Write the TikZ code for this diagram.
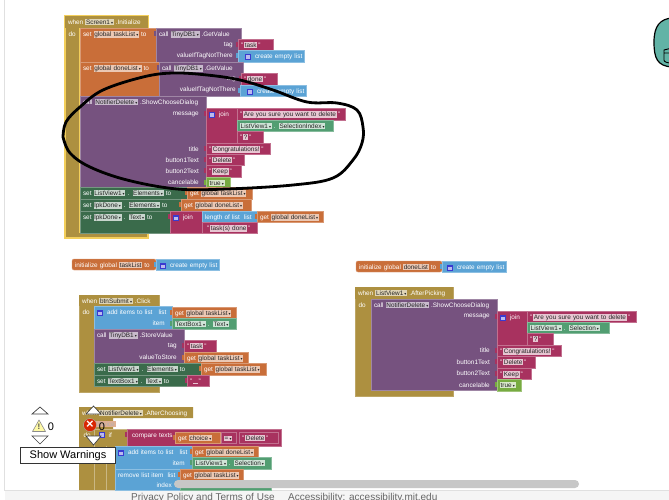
\documentclass[tikz,border=0pt]{standalone}
\usepackage{fontspec}
\setmainfont{Liberation Sans}
\newfontfamily\symfont{DejaVu Sans}
\definecolor{blkpurple}{HTML}{76527F}
\definecolor{blkorange}{HTML}{C96E39}
\definecolor{blkpink}{HTML}{A8325F}
\definecolor{blkblue}{HTML}{5BA3D5}
\definecolor{blkdark}{HTML}{3A6B4B}
\definecolor{blkgreen}{HTML}{529E72}
\definecolor{blklime}{HTML}{77AB41}
\definecolor{blkgold}{HTML}{AD9040}
\definecolor{gearblue}{HTML}{3A3AD0}
\definecolor{hilite}{HTML}{F3CF5B}
\definecolor{figteal}{HTML}{62B3A6}
\colorlet{chipc}{white}
\newcommand{\blkfont}{\fontsize{6.4}{7.5}\selectfont}
\newcommand{\chip}[1]{{\setlength{\fboxsep}{0.7pt}\colorbox{chipc}{\textcolor{black!85}{#1}}}}
\newcommand{\chipd}[1]{\chip{#1\,{\symfont\fontsize{4}{5}\selectfont ▾}}}
\newcommand{\gearic}{{\setlength{\fboxsep}{0.7pt}\setlength{\fboxrule}{1.3pt}\fcolorbox{gearblue}{gearblue!35!white}{\rule{0pt}{2pt}\rule{2pt}{0pt}}}}
\newcommand{\emptylst}[1][4pt]{\rlap{\hspace{#1}\gearic\hspace{4pt}create empty list}}
\tikzset{
  blk/.style 2 args={anchor=north west, outer sep=0pt, inner xsep=3pt, inner ysep=0pt,
    text width={#1pt-6pt}, text height=8.2pt, text depth={#2pt-8.2pt}, align=left,
    line width=0.4pt, font=\blkfont},
  purp/.style={fill=blkpurple, draw=blkpurple!70!white, text=white, execute at begin node=\colorlet{chipc}{blkpurple!40!white}},
  oran/.style={fill=blkorange, draw=blkorange!70!white, text=white, execute at begin node=\colorlet{chipc}{blkorange!38!white}},
  pink/.style={fill=blkpink, draw=blkpink!70!white, text=white, execute at begin node=\colorlet{chipc}{blkpink!28!white}},
  blue/.style={fill=blkblue, draw=blkblue!70!white, text=white},
  dark/.style={fill=blkdark, draw=blkdark!70!white, text=white, execute at begin node=\colorlet{chipc}{blkdark!28!white}},
  gren/.style={fill=blkgreen, draw=blkgreen!70!white, text=white, execute at begin node=\colorlet{chipc}{blkgreen!28!white}},
  lime/.style={fill=blklime, draw=blklime!70!white, text=white, execute at begin node=\colorlet{chipc}{blklime!28!white}},
  gold/.style={fill=blkgold, text=white, execute at begin node=\colorlet{chipc}{blkgold!38!white}},
  hat/.style={fill=blkgold, draw=blkgold!80!white, line width=0.4pt},
  tab/.style={append after command={\pgfextra{\fill[#1] ([xshift=-2pt,yshift=-3pt]\tikzlastnode.north west) rectangle ([yshift=-8pt]\tikzlastnode.north west);}}},
  lbl/.style={anchor=east, inner sep=0pt, text=white, font=\blkfont},
  navtri/.style={fill=white, draw=black!75, line width=0.7pt},
  bignum/.style={inner sep=0pt, text=black, font=\fontsize{11}{12}\selectfont},
  foot/.style={anchor=west, inner sep=0pt, text=black!60, font=\fontsize{10}{12}\selectfont},
}
\begin{document}
\begin{tikzpicture}[x=1pt,y=-1pt]
\useasboundingbox (0,0) rectangle (669,500);
\clip (0,0) rectangle (669,500);
\fill[white] (0,0) rectangle (669,500);
\draw[black!12,line width=0.6pt] (4,0) -- (4,490) -- (669,490);

% Screen1.Initialize
\draw[hat,draw=hilite,line width=1.2pt] (65,16) -- (148,16) -- (148,28) -- (80,28) -- (80,232) -- (148,232) -- (148,238) -- (65,238) -- cycle;
\node[gold, blk={83}{12}] (scr) at (65,16) {when \chipd{Screen1} .Initialize};
\node[lbl] (scrdo) at (76,34) {do};
\node[oran, blk={76}{34}] (settask) at (80,28) {set \chipd{global taskList} to};
\node[purp, blk={85}{34}, tab=blkpurple] (gettask) at (156,28) {call \chipd{TinyDB1} .GetValue};
\node[lbl] (tag1) at (233,45) {tag};
\node[pink, blk={35}{11}, tab=blkpink] (task1) at (238,39) {"\,\chip{task}\,"};
\node[lbl] (vin1) at (233,56) {valueIfTagNotThere};
\node[blue, blk={66}{12}, tab=blkblue] (empty1) at (238,50) {\emptylst};
\node[oran, blk={79}{34}] (setdone) at (80,62) {set \chipd{global doneList} to};
\node[purp, blk={84}{34}, tab=blkpurple] (getdone) at (159,62) {call \chipd{TinyDB1} .GetValue};
\node[lbl] (tag2) at (236,79) {tag};
\node[pink, blk={36}{12}, tab=blkpink] (done1) at (241,73) {"\,\chip{done}\,"};
\node[lbl] (vin2) at (236,90) {valueIfTagNotThere};
\node[blue, blk={66}{11}, tab=blkblue] (empty2) at (240,85) {\emptylst};

\node[purp, blk={126}{91}] (dlg1) at (80,96) {call \chipd{NotifierDelete} .ShowChooseDialog};
\node[lbl] (msg1) at (199,114) {message};
\node[pink, blk={31}{35}, tab=blkpink] (join1) at (206,108) {\gearic\hspace{4pt}join};
\node[pink, blk={108}{12}] (sure1) at (237,108) {"\,\chip{Are you sure you want to delete}\,"};
\node[gren, blk={96}{11}] (sel1) at (237,120) {\chipd{ListView1} . \chipd{SelectionIndex}};
\node[pink, blk={26}{12}] (qm1) at (237,131) {"\,\chip{?}\,"};
\node[lbl] (ttl1) at (199,149) {title};
\node[pink, blk={64}{11}, tab=blkpink] (cong1) at (206,143) {"\,\chip{Congratulations!}\,"};
\node[lbl] (btn1) at (199,160) {button1Text};
\node[pink, blk={38}{11}, tab=blkpink] (del1) at (206,154) {"\,\chip{Delete}\,"};
\node[lbl] (btn2) at (199,171) {button2Text};
\node[pink, blk={35}{12}, tab=blkpink] (keep1) at (206,165) {"\,\chip{Keep}\,"};
\node[lbl] (can1) at (199,182) {cancelable};
\node[lime, blk={24}{10}, tab=blklime] (true1) at (206,177) {\chipd{true}};

\node[dark, blk={107}{12}] (setlv) at (80,187) {set \chipd{ListView1} . \chipd{Elements} to};
\node[oran, blk={65}{12}, tab=blkorange] (gl1) at (187,187) {get \chipd{global taskList}};
\node[dark, blk={101}{12}] (setlpk) at (80,199) {set \chipd{lpkDone} . \chipd{Elements} to};
\node[oran, blk={70}{12}, tab=blkorange] (gl2) at (181,199) {get \chipd{global doneList}};
\node[dark, blk={90}{22}] (settxt) at (80,211) {set \chipd{lpkDone} . \chipd{Text} to};
\node[pink, blk={32}{22}, tab=blkpink] (join2) at (170,211) {\gearic\hspace{4pt}join};
\node[blue, blk={55}{11}] (len) at (202,211) {length of list\hspace{4pt}list};
\node[oran, blk={66}{11}, tab=blkorange] (gl3) at (257,211) {get \chipd{global doneList}};
\node[pink, blk={55}{11}] (tsk) at (202,222) {\hspace{2pt}"\,\chip{task(s) done}\,"};

% initialize globals
\node[oran, blk={84}{11}, rounded corners=2pt] (inittask) at (72,259) {initialize global \chip{taskList} to};
\node[blue, blk={63}{11}, tab=blkblue] (emptyt) at (156,259) {\emptylst[1pt]};
\node[oran, blk={86}{11}, rounded corners=2pt] (initdone) at (356,261) {initialize global \chip{doneList} to};
\node[blue, blk={64}{11}, tab=blkblue] (emptyd) at (442,261) {\emptylst[2pt]};

% ListView1.AfterPicking
\draw[hat] (355,287) -- (453,287) -- (453,299) -- (371,299) -- (371,390) -- (453,390) -- (453,396) -- (355,396) -- cycle;
\node[gold, blk={98}{12}] (lvp) at (355,287) {when \chipd{ListView1} .AfterPicking};
\node[lbl] (lvdo) at (366,305) {do};
\node[purp, blk={126}{91}] (dlg2) at (371,299) {call \chipd{NotifierDelete} .ShowChooseDialog};
\node[lbl] (msg2) at (490,316) {message};
\node[pink, blk={30}{34}, tab=blkpink] (join3) at (497,311) {\gearic\hspace{4pt}join};
\node[pink, blk={109}{11}] (sure2) at (527,311) {"\,\chip{Are you sure you want to delete}\,"};
\node[gren, blk={82}{11}] (sel2) at (527,322) {\chipd{ListView1} . \chipd{Selection}};
\node[pink, blk={26}{12}] (qm2) at (527,333) {"\,\chip{?}\,"};
\node[lbl] (ttl2) at (490,350) {title};
\node[pink, blk={64}{11}, tab=blkpink] (cong2) at (497,345) {"\,\chip{Congratulations!}\,"};
\node[lbl] (btn3) at (490,362) {button1Text};
\node[pink, blk={38}{12}, tab=blkpink] (del2) at (497,356) {"\,\chip{Delete}\,"};
\node[lbl] (btn4) at (490,373) {button2Text};
\node[pink, blk={34}{11}, tab=blkpink] (keep2) at (497,368) {"\,\chip{Keep}\,"};
\node[lbl] (can2) at (490,385) {cancelable};
\node[lime, blk={24}{12}, tab=blklime] (true2) at (497,379) {\chipd{true}};

% btnSubmit.Click
\draw[hat] (79,295) -- (159,295) -- (159,306) -- (94,306) -- (94,386) -- (159,386) -- (159,392) -- (79,392) -- cycle;
\node[gold, blk={80}{11}] (sub) at (79,295) {when \chipd{btnSubmit} .Click};
\node[lbl] (subdo) at (90,312) {do};
\node[blue, blk={78}{23}] (add1) at (94,306) {\gearic\hspace{4pt}add items to list\hspace{6pt}list};
\node[lbl] (itm1) at (165,323) {item};
\node[oran, blk={64}{11}, tab=blkorange] (gl4) at (172,307) {get \chipd{global taskList}};
\node[gren, blk={64}{11}, tab=blkgreen] (tb1) at (172,318) {\chipd{TextBox1} . \chipd{Text}};
\node[purp, blk={90}{34}] (store) at (94,329) {call \chipd{TinyDB1} .StoreValue};
\node[lbl] (tag3) at (177,346) {tag};
\node[pink, blk={32}{12}, tab=blkpink] (task2) at (184,340) {"\,\chip{task}\,"};
\node[lbl] (vts) at (177,357) {valueToStore};
\node[oran, blk={64}{11}, tab=blkorange] (gl5) at (184,352) {get \chipd{global taskList}};
\node[dark, blk={107}{12}] (setlv2) at (94,363) {set \chipd{ListView1} . \chipd{Elements} to};
\node[oran, blk={65}{12}, tab=blkorange] (gl6) at (201,363) {get \chipd{global taskList}};
\node[dark, blk={93}{11}] (settb) at (94,375) {set \chipd{TextBox1} . \chipd{Text} to};
\node[pink, blk={22}{11}, tab=blkpink] (nil) at (187,375) {"\,\chip{\hspace{3pt}}\,"};

% NotifierDelete.AfterChoosing
\fill[blkgold] (79,407) -- (193,407) -- (193,418) -- (113,418) -- (113,429) -- (127,429) -- (127,446) -- (115,446) -- (115,490) -- (79,490) -- cycle;
\node[gold, blk={114}{11}] (cho) at (79,407) {when \chipd{NotifierDelete} .AfterChoosing};
\node[lbl, anchor=west, text=black!30, fill=blkorange!55!white, inner sep=1pt] (chosen) at (95,424) {choice};
\node[lbl] (chodo) at (91,435) {do};
\draw[blkgold!65!white,line width=0.5pt] (94,429) -- (127,429) (94,429) -- (94,490) (106,446) -- (106,490);
\node[lbl] (iflbl) at (112,435) {if};
\node[inner sep=0pt, font=\blkfont] (ifg) at (102,435) {\gearic};
\node[pink, blk={154}{17}, tab=blkpink] (cmp) at (127,429) {\hspace{2pt}compare texts};
\node[oran, blk={45}{11}, tab=blkorange] (gc) at (175,432) {get \chipd{choice}};
\node[pink, blk={15}{11}] (eq) at (221,432) {\chipd{=}};
\node[pink, blk={39}{11}] (del3) at (239,432) {"\,\chip{Delete}\,"};
\node[blue, blk={77}{23}] (add2) at (115,446) {\gearic\hspace{4pt}add items to list\hspace{6pt}list};
\node[lbl] (itm2) at (185,463) {item};
\node[oran, blk={66}{11}, tab=blkorange] (gl7) at (192,446) {get \chipd{global doneList}};
\node[gren, blk={79}{12}, tab=blkgreen] (sel3) at (192,457) {\chipd{ListView1} . \chipd{Selection}};
\node[blue, blk={65}{21}] (rem) at (115,469) {remove list item\hspace{4pt}list};
\node[lbl] (idx) at (172,485) {index};
\node[oran, blk={63}{11}, tab=blkorange] (gl8) at (180,469) {get \chipd{global taskList}};
\node[gren, blk={91}{10}] (idx2) at (180,480) {};

% footer and scroll bar
\fill[black!4] (5,491) rectangle (669,500);
\node[foot] (priv) at (131,498) {Privacy Policy and Terms of Use};
\node[foot] (acc) at (288,498) {Accessibility: accessibility.mit.edu};
\fill[black!22,rounded corners=4pt] (174,480) rectangle (579,488);

% scribble
\draw[black,line width=2.8pt,line cap=round] plot[smooth,tension=0.6] coordinates {(63,137) (66,122) (80,107) (103,90) (143,77) (173,73) (207,75) (240,80) (273,90) (307,102) (337,103) (357,110) (363,127) (362,143) (353,160) (333,178) (293,185) (227,189) (177,189) (127,180) (90,167) (70,153) (63,137)};

% warnings
\draw[navtri] (32,414) -- (40,407) -- (48,414) -- cycle;
\draw[fill=yellow!35!white,draw=black!45,line width=0.6pt,line join=round] (39,420) -- (45.5,431.5) -- (32.5,431.5) -- cycle;
\node[inner sep=0pt, text=black!70, font=\fontsize{8}{8}\selectfont\bfseries] (warnic) at (39,427) {!};
\node[bignum] (warnnum) at (51,427) {0};
\draw[navtri] (32,436) -- (48,436) -- (40,444) -- cycle;
\node[draw=black!80, fill=white, line width=1pt, anchor=north west, minimum width=95pt, minimum height=16pt, inner sep=0pt, font=\fontsize{11}{12}\selectfont] (showw) at (20,447) {Show Warnings};
\draw[navtri] (86,414) -- (93.5,406) -- (101,414) -- cycle;
\node[circle, fill=red!65!orange!85!black, draw=black!30, minimum size=13pt, inner sep=0pt, text=white, font=\fontsize{13}{13}\selectfont\bfseries] (erric) at (90,425) {×};
\node[bignum] (errnum) at (102,427) {0};
\draw[navtri] (86,436) -- (101,436) -- (93.5,445) -- cycle;

% corner figure
\draw[fill=figteal,draw=black,line width=1.2pt] (672,18) .. controls (660,19) and (654,26) .. (654,42) .. controls (654,58) and (657,66) .. (672,67);
\draw[black,line width=0.9pt] (672,48) -- (664,50) -- (664,60) .. controls (664,62) and (667,63) .. (672,63) (664,53) -- (672,53);
\end{tikzpicture}
\end{document}
